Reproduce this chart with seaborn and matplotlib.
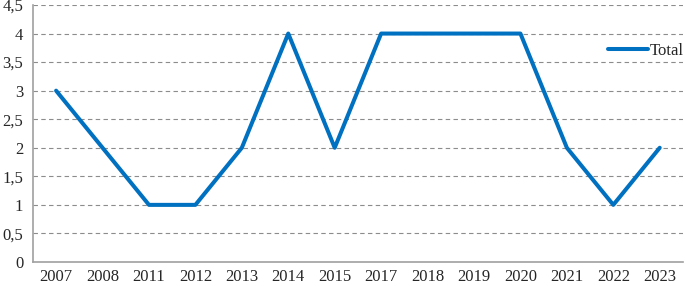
import numpy as np
import pandas as pd
import matplotlib
matplotlib.use("Agg")
import matplotlib.pyplot as plt
import seaborn as sns
from matplotlib.ticker import FixedLocator, FuncFormatter

years = ["2007", "2008", "2011", "2012", "2013", "2014", "2015",
         "2017", "2018", "2019", "2020", "2021", "2022", "2023"]
totals = [3, 2, 1, 1, 2, 4, 2, 4, 4, 4, 4, 2, 1, 2]

sns.set_style("white")
plt.rcParams["font.family"] = ["Liberation Serif", "DejaVu Serif"]

df = pd.DataFrame({"year": years, "Total": totals})

fig = plt.figure(figsize=(6.85, 2.86), dpi=100)
ax = fig.add_axes([0.048, 0.084, 0.949, 0.8985])

sns.lineplot(data=df, x="year", y="Total", ax=ax, color="#0070C0",
             linewidth=2.9, label="Total", sort=False)

ax.set_xlim(-0.5, len(years) - 0.5)
ax.set_ylim(0, 4.5)
ax.set_yticks(np.arange(0, 4.51, 0.5))
ax.yaxis.set_major_formatter(FuncFormatter(lambda v, p: f"{v:g}".replace(".", ",")))
ax.xaxis.set_minor_locator(FixedLocator(np.arange(-0.5, len(years), 1.0)))
ax.tick_params(axis="x", which="major", length=0, pad=5, labelsize=12)
ax.tick_params(axis="x", which="minor", length=4, color="#a0a0a0", direction="out")
ax.tick_params(axis="y", length=4, color="#a0a0a0", direction="out", pad=3, labelsize=12)
ax.set_xlabel("")
ax.set_ylabel("")

for v in np.arange(0.5, 4.51, 0.5):
    ax.axhline(v, color="#8c8c8c", linestyle=(0, (4, 3)), linewidth=0.8, zorder=0)

for side in ["top", "right"]:
    ax.spines[side].set_visible(False)
for side in ["left", "bottom"]:
    ax.spines[side].set_color("#a0a0a0")
    ax.spines[side].set_linewidth(1.2)

leg = ax.legend(loc="center right", bbox_to_anchor=(1.011, 0.82), frameon=False,
                fontsize=12, handlelength=2.4, handletextpad=0.1, borderaxespad=0)

fig.savefig("out.png", dpi=100)
